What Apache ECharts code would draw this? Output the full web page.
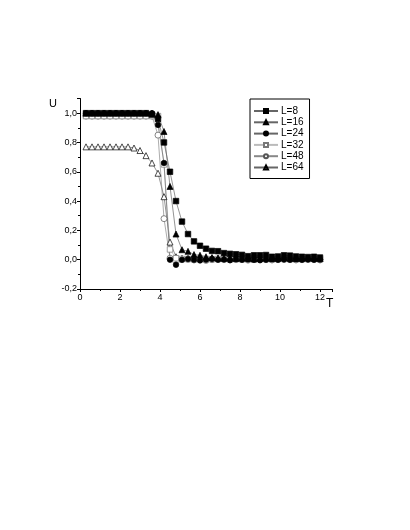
<!DOCTYPE html>
<html>
<head>
<meta charset="utf-8">
<script src="https://cdn.jsdelivr.net/npm/echarts@6/dist/echarts.min.js"></script>
<style>
  html, body { margin: 0; padding: 0; background: #fff; }
  #chart { width: 410px; height: 530px; }
</style>
</head>
<body>
<div id="chart"></div>
<script>
// temperature points
const temps = [0.3, 0.6, 0.9, 1.2, 1.5, 1.8, 2.1, 2.4, 2.7, 3.0, 3.3, 3.6, 3.9, 4.2, 4.5, 4.8, 5.1, 5.4, 5.7, 6.0,
  6.3, 6.6, 6.9, 7.2, 7.5, 7.8, 8.1, 8.4, 8.7, 9.0, 9.3, 9.6, 9.9, 10.2, 10.5, 10.8, 11.1, 11.4, 11.7, 12.0]

const uL8 = [1.0, 1.0, 1.0, 1.0, 1.0, 1.0, 1.0, 1.0, 1.0, 1.0, 1.0, 0.99, 0.96, 0.80, 0.60, 0.40, 0.26, 0.175, 0.125, 0.095,
  0.075, 0.06, 0.058, 0.045, 0.04, 0.037, 0.033, 0.024, 0.03, 0.03, 0.032, 0.02, 0.022, 0.03, 0.028, 0.022, 0.02, 0.018, 0.02, 0.015]
const uL16 = [1.0, 1.0, 1.0, 1.0, 1.0, 1.0, 1.0, 1.0, 1.0, 1.0, 1.0, 1.0, 0.99, 0.875, 0.50, 0.175, 0.068, 0.057, 0.035, 0.03,
  0.02, 0.015, 0.012, 0.01, 0.015, 0.008, 0.012, 0.01, 0.005, 0.01, 0.012, 0.008, 0.01, 0.015, 0.01, 0.008, 0.01, 0.012, 0.01, 0.008]
const uL24 = [1.0, 1.0, 1.0, 1.0, 1.0, 1.0, 1.0, 1.0, 1.0, 1.0, 1.0, 1.0, 0.92, 0.66, 0.0, -0.035, 0.0, 0.005, 0.0, -0.005,
  0.0, 0.005, 0.0, 0.002, -0.003, 0.004, 0.0, 0.002, 0.0, -0.004, 0.0, 0.003, 0.0, 0.002, 0.0, 0.003, 0.0, 0.002, 0.0, 0.001]
const uL32 = [0.98, 0.98, 0.98, 0.98, 0.98, 0.98, 0.98, 0.98, 0.98, 0.98, 0.98, 0.98, 0.98, 0.65, 0.07, 0.01, 0.005, 0.005, 0.004, 0.006,
  0.005, 0.004, 0.005, 0.006, 0.004, 0.005, 0.003, 0.005, 0.004, 0.006, 0.005, 0.004, 0.005, 0.006, 0.004, 0.005, 0.004, 0.005, 0.006, 0.004]
const uL48 = [0.98, 0.98, 0.98, 0.98, 0.98, 0.98, 0.98, 0.98, 0.98, 0.98, 0.98, 0.98, 0.85, 0.28, 0.01, 0.01, 0.0, 0.002, -0.002, 0.0,
  -0.005, 0.0, 0.002, 0.0, -0.002, 0.0, 0.001, -0.003, 0.0, 0.002, 0.0, -0.002, 0.0, 0.001, 0.0, -0.002, 0.0, 0.001, 0.0, -0.002]
const uL64 = [0.77, 0.77, 0.77, 0.77, 0.77, 0.77, 0.77, 0.77, 0.762, 0.745, 0.71, 0.66, 0.59, 0.43, 0.12, 0.02, 0.01, 0.01, 0.008, 0.01,
  0.012, 0.01, 0.008, 0.01, 0.012, 0.01, 0.008, 0.01, 0.01, 0.012, 0.008, 0.01, 0.01, 0.012, 0.01, 0.008, 0.01, 0.012, 0.01, 0.008]

const xTicks = [0, 2, 4, 6, 8, 10, 12]
const yTicks = [-0.2, 0.0, 0.2, 0.4, 0.6, 0.8, 1.0]

const fontFamily = 'Liberation Sans, Arial, sans-serif'

// open markers are drawn as white shapes with a thin outline
function makeSeries (name, values, symbol, size, fill, edge, lineColor) {
  return {
    name: name,
    type: 'line',
    data: temps.map((t, i) => [t, values[i]]),
    symbol: symbol,
    symbolSize: size,
    showAllSymbol: true,
    itemStyle: { color: fill, borderColor: edge, borderWidth: 0.7 },
    lineStyle: { color: lineColor, width: 0.7 },
    emphasis: { disabled: true }
  }
}

const chart = echarts.init(document.getElementById('chart'))
const option = {
  animation: false,
  backgroundColor: '#fff',
  grid: { left: 80, right: 78, top: 98.5, bottom: 241 },
  legend: {
    orient: 'vertical',
    left: 250,
    top: 99,
    width: 56,
    borderColor: '#000',
    borderWidth: 1,
    padding: [7, 6, 6, 3],
    itemWidth: 24,
    itemHeight: 5,
    itemGap: 1.3,
    textStyle: { fontSize: 10, color: '#000', fontFamily: fontFamily, padding: [0, 0, 0, -2] },
    data: ['L=8', 'L=16', 'L=24', 'L=32', 'L=48', 'L=64']
  },
  xAxis: {
    type: 'value',
    min: 0,
    max: 12.6,
    interval: 2,
    splitLine: { show: false },
    axisLine: { onZero: false, lineStyle: { color: '#000', width: 1 } },
    axisTick: { length: 3, lineStyle: { color: '#000' } },
    minorTick: { show: true, splitNumber: 2, length: 2, lineStyle: { color: '#000' } },
    axisLabel: {
      color: '#000', fontSize: 9, fontFamily: fontFamily, margin: 4,
      formatter: v => (xTicks.includes(v) ? String(v) : '')
    }
  },
  yAxis: {
    type: 'value',
    min: -0.2,
    max: 1.1,
    interval: 0.2,
    splitLine: { show: false },
    axisLine: { onZero: false, lineStyle: { color: '#000', width: 1 } },
    axisTick: { length: 3, lineStyle: { color: '#000' } },
    minorTick: { show: true, splitNumber: 2, length: 2, lineStyle: { color: '#000' } },
    axisLabel: {
      color: '#000', fontSize: 9, fontFamily: fontFamily, margin: 3,
      showMaxLabel: false,
      formatter: v => {
        const hit = yTicks.find(t => Math.abs(t - v) < 1e-6)
        return hit === undefined ? '' : hit.toFixed(1).replace('.', ',')
      }
    }
  },
  graphic: [
    { type: 'text', left: 49, top: 98, style: { text: 'U', fontSize: 11, fill: '#000', fontFamily: fontFamily } },
    { type: 'text', left: 326, top: 298, style: { text: 'T', fontSize: 12, fill: '#000', fontFamily: fontFamily } }
  ],
  series: [
    makeSeries('L=64', uL64, 'triangle', 6, '#fff', '#000', '#666'),
    makeSeries('L=48', uL48, 'circle', 6, '#fff', '#555', '#888'),
    makeSeries('L=32', uL32, 'rect', 5.5, '#fff', '#777', '#bbb'),
    makeSeries('L=24', uL24, 'circle', 5.5, '#000', '#000', '#666'),
    makeSeries('L=16', uL16, 'triangle', 6, '#000', '#000', '#666'),
    makeSeries('L=8', uL8, 'rect', 5.5, '#000', '#000', '#666')
  ]
}
chart.setOption(option)
</script>
</body>
</html>
